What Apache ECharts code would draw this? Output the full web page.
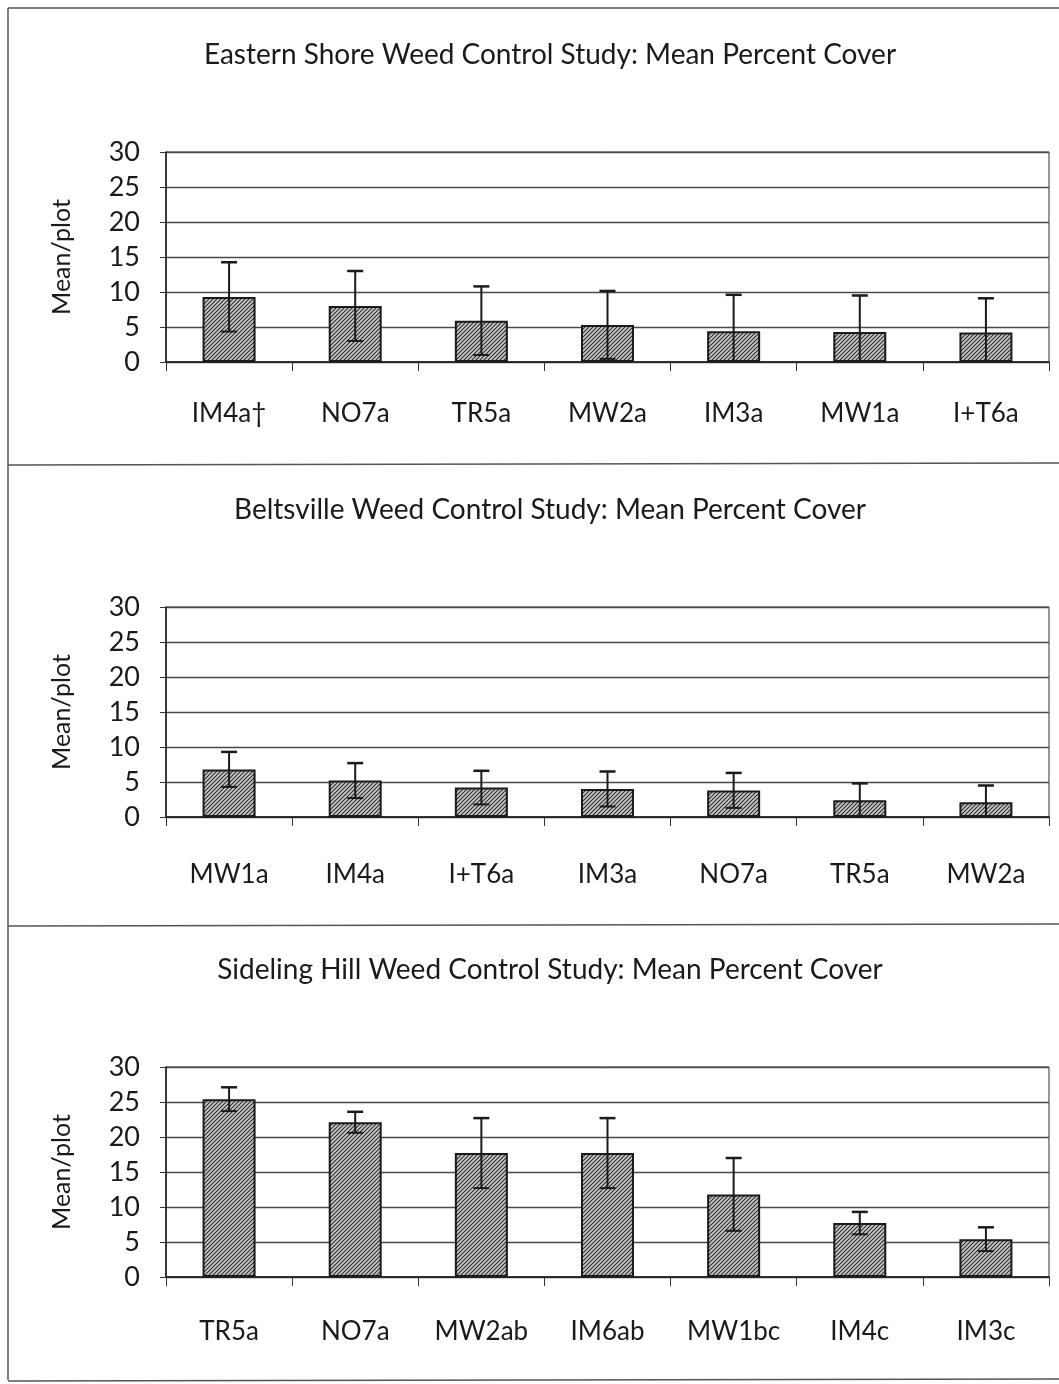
<!DOCTYPE html>
<html>
<head>
<meta charset="utf-8">
<script src="https://cdn.jsdelivr.net/npm/echarts@6/dist/echarts.min.js"></script>
<style>
  html, body { margin: 0; padding: 0; background: #fff; }
  #chart { width: 1059px; height: 1384px; }
</style>
</head>
<body>
<div id="chart"></div>
<script>
// Eastern Shore
const esCats = ['IM4a\u2020', 'NO7a', 'TR5a', 'MW2a', 'IM3a', 'MW1a', 'I+T6a'];
const esMeans = [9.3, 8.0, 5.9, 5.3, 4.4, 4.3, 4.2];
const esErr = [4.95, 5.0, 4.9, 4.85, 5.2, 5.2, 4.9];

// Beltsville
const bwCats = ['MW1a', 'IM4a', 'I+T6a', 'IM3a', 'NO7a', 'TR5a', 'MW2a'];
const bwMeans = [6.8, 5.2, 4.2, 4.0, 3.8, 2.4, 2.1];
const bwErr = [2.5, 2.5, 2.4, 2.5, 2.5, 2.4, 2.4];

// Sideling Hill
const shCats = ['TR5a', 'NO7a', 'MW2ab', 'IM6ab', 'MW1bc', 'IM4c', 'IM3c'];
const shMeans = [25.4, 22.1, 17.7, 17.7, 11.8, 7.7, 5.4];
const shErr = [1.7, 1.5, 5.0, 5.0, 5.2, 1.6, 1.7];

const yTicks = [0, 5, 10, 15, 20, 25, 30];

const titles = [
  'Eastern Shore Weed Control Study: Mean Percent Cover',
  'Beltsville Weed Control Study: Mean Percent Cover',
  'Sideling Hill Weed Control Study: Mean Percent Cover'
];

const FONT = 'Lato';
const INK = '#1a1a1a';

// hatch pattern for the bars
const hatch = (() => {
  const c = document.createElement('canvas');
  c.width = 4;
  c.height = 4;
  const ctx = c.getContext('2d');
  ctx.fillStyle = '#c8c8c8';
  ctx.fillRect(0, 0, 4, 4);
  ctx.strokeStyle = '#2e2e2e';
  ctx.lineWidth = 1.1;
  ctx.beginPath();
  ctx.moveTo(-1, 5); ctx.lineTo(5, -1);
  ctx.moveTo(-1, 1); ctx.lineTo(1, -1);
  ctx.moveTo(3, 5); ctx.lineTo(5, 3);
  ctx.stroke();
  return c;
})();

const panels = [
  { cats: esCats, means: esMeans, err: esErr, top: 152, titleTop: 36, labelGap: 39 },
  { cats: bwCats, means: bwMeans, err: bwErr, top: 607, titleTop: 491, labelGap: 45 },
  { cats: shCats, means: shMeans, err: shErr, top: 1067, titleTop: 951, labelGap: 42 }
];

const chart = echarts.init(document.getElementById('chart'));

const errorRender = (params, api) => {
  const x = api.value(0);
  const lo = Math.max(0, api.value(1));
  const hi = api.value(2);
  const pHi = api.coord([x, hi]);
  const pLo = api.coord([x, lo]);
  const cap = 8;
  const style = { stroke: INK, lineWidth: 2 };
  const children = [
    { type: 'line', shape: { x1: pHi[0], y1: pHi[1], x2: pLo[0], y2: pLo[1] }, style },
    { type: 'line', shape: { x1: pHi[0] - cap, y1: pHi[1], x2: pHi[0] + cap, y2: pHi[1] }, style: { stroke: INK, lineWidth: 2.5 } }
  ];
  if (api.value(1) >= 0) {
    children.push({ type: 'line', shape: { x1: pLo[0] - cap, y1: pLo[1], x2: pLo[0] + cap, y2: pLo[1] }, style });
  }
  return { type: 'group', children };
};

const option = {
  backgroundColor: '#fff',
  animation: false,
  title: panels.map((p, i) => ({
    text: titles[i],
    left: 545,
    top: p.titleTop,
    textAlign: 'center',
    textStyle: { fontFamily: FONT, fontSize: 28, fontWeight: 'normal', color: INK }
  })),
  grid: panels.map(p => ({
    left: 166,
    right: 10,
    top: p.top,
    height: 210,
    show: true,
    borderColor: '#333',
    borderWidth: 1
  })),
  xAxis: panels.map((p, i) => ({
    type: 'category',
    gridIndex: i,
    data: p.cats,
    axisLine: { lineStyle: { color: INK, width: 1.5 } },
    axisTick: { show: true, length: 9, lineStyle: { color: '#333' } },
    axisLabel: { color: INK, fontFamily: FONT, fontSize: 26, margin: p.labelGap }
  })),
  yAxis: panels.map((p, i) => ({
    type: 'value',
    gridIndex: i,
    min: yTicks[0],
    max: yTicks[yTicks.length - 1],
    interval: yTicks[1] - yTicks[0],
    name: 'Mean/plot',
    nameLocation: 'middle',
    nameGap: 92,
    nameTextStyle: { color: INK, fontFamily: FONT, fontSize: 25 },
    axisLine: { show: true, lineStyle: { color: INK, width: 1.5 } },
    axisTick: { show: true, length: 6, lineStyle: { color: '#333' } },
    axisLabel: { color: INK, fontFamily: FONT, fontSize: 27, margin: 26 },
    splitLine: { lineStyle: { color: '#4a4a4a', width: 1.3 } }
  })),
  series: panels.flatMap((p, i) => [
    {
      type: 'bar',
      xAxisIndex: i,
      yAxisIndex: i,
      data: p.means,
      barWidth: 53,
      itemStyle: {
        color: { image: hatch, repeat: 'repeat' },
        borderColor: INK,
        borderWidth: 2
      }
    },
    {
      type: 'custom',
      xAxisIndex: i,
      yAxisIndex: i,
      renderItem: errorRender,
      encode: { x: 0, y: [1, 2] },
      data: p.means.map((m, k) => [k, m - p.err[k], m + p.err[k]]),
      z: 10
    }
  ]),
  graphic: [
    { type: 'line', shape: { x1: 8, y1: 8, x2: 1059, y2: 8 }, style: { stroke: '#555', lineWidth: 1.5 } },
    { type: 'line', shape: { x1: 8, y1: 8, x2: 8, y2: 1380 }, style: { stroke: '#555', lineWidth: 1.5 } },
    { type: 'line', shape: { x1: 8, y1: 465, x2: 1059, y2: 463 }, style: { stroke: '#555', lineWidth: 1.5 } },
    { type: 'line', shape: { x1: 8, y1: 926, x2: 1059, y2: 924 }, style: { stroke: '#555', lineWidth: 1.5 } },
    { type: 'line', shape: { x1: 8, y1: 1381, x2: 1059, y2: 1379 }, style: { stroke: '#555', lineWidth: 1.5 } }
  ]
};

chart.setOption(option);
</script>
</body>
</html>
